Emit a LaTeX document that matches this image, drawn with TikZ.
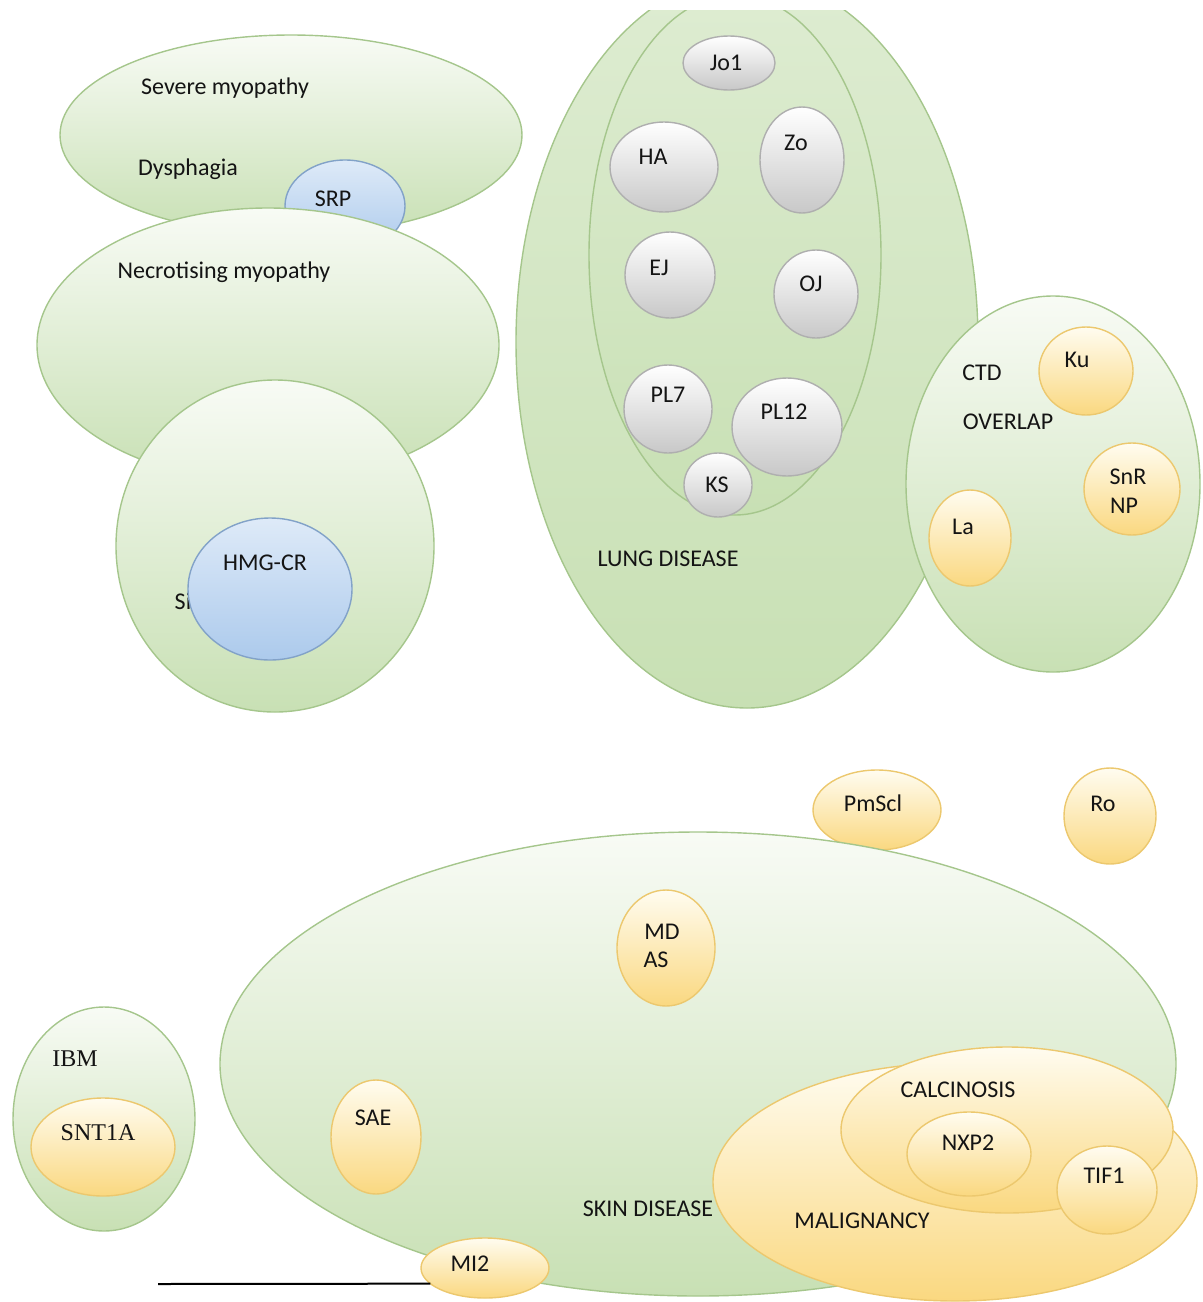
\documentclass[tikz,border=0pt]{standalone}
\usepackage{fontspec}
\setmainfont{Carlito}
\newfontfamily\myserif{Liberation Serif}
\usetikzlibrary{shapes.geometric}
\definecolor{greenB}{RGB}{165,198,140}
\definecolor{greenD}{RGB}{200,224,180}
\definecolor{greenL}{RGB}{248,251,245}
\definecolor{grayB}{RGB}{175,175,175}
\definecolor{grayD}{RGB}{200,200,200}
\definecolor{yelB}{RGB}{236,200,110}
\definecolor{yelD}{RGB}{250,216,128}
\definecolor{yelL}{RGB}{255,252,240}
\definecolor{bluB}{RGB}{130,162,200}
\definecolor{bluD}{RGB}{172,202,236}
\definecolor{bluL}{RGB}{222,234,248}
\newcommand\myblob[5]{\node[#1, minimum width=#4pt, minimum height=#5pt] (#2) at #3 {};}
\begin{document}
\begin{tikzpicture}[x=0.5pt,y=-0.5pt,
  blob/.style={ellipse, inner sep=0pt, outer sep=0pt, line width=0.7pt},
  greenblob/.style={blob, draw=greenB, top color=greenL, bottom color=greenD},
  lungblob/.style={blob, draw=greenB, top color=greenD!55!greenL, bottom color=greenD},
  grayblob/.style={blob, draw=grayB, top color=white, bottom color=grayD},
  yelblob/.style={blob, draw=yelB, top color=yelL, bottom color=yelD},
  blublob/.style={blob, draw=bluB, top color=bluL, bottom color=bluD},
  lbl/.style={font=\fontsize{12}{14.5}\selectfont, text=black!92, inner sep=0pt, align=center},
  slbl/.style={font=\myserif\fontsize{12}{14}\selectfont, text=black!92, inner sep=0pt}]
\useasboundingbox (0,0) rectangle (1203,1302);
\clip (0,10) rectangle (1203,1302);

% ---- top left: myopathy ----
\myblob{greenblob}{severe}{(291,135)}{231}{100}
\node[lbl] (tsevere) at (225,88) {Severe myopathy};
\node[lbl] (tdys) at (188,169) {Dysphagia};
\myblob{blublob}{srp}{(345,206)}{60}{46}
\node[lbl] (tsrp) at (333,199) {SRP};
\myblob{greenblob}{necro}{(268,345)}{231}{137}
\node[lbl] (tnecro) at (224,272) {Necrotising myopathy};
\myblob{greenblob}{statin}{(275,546)}{159}{166}
\node[lbl] (tsi) at (183,601) {Si};
\myblob{blublob}{hmg}{(270,589)}{82}{71}
\node[lbl] (thmg) at (265,563) {HMG-CR};

% ---- lung disease ----
\myblob{lungblob}{lung}{(747,342)}{231}{366}
\myblob{lungblob}{lungin}{(735,255)}{146}{260}
\node[lbl] (tlung) at (668,559) {LUNG DISEASE};
\myblob{grayblob}{jo1}{(729,63)}{46}{27}
\node[lbl] (tjo1) at (726,63) {Jo1};
\myblob{grayblob}{ha}{(664,167)}{54}{45}
\node[lbl] (tha) at (653,157) {HA};
\myblob{grayblob}{zo}{(802,160)}{42}{53}
\node[lbl] (tzo) at (796,143) {Zo};
\myblob{grayblob}{ej}{(670,275)}{45}{43}
\node[lbl] (tej) at (659,268) {EJ};
\myblob{grayblob}{oj}{(816,294)}{42}{44}
\node[lbl] (toj) at (811,284) {OJ};
\myblob{grayblob}{pl7}{(668,409)}{44}{44}
\node[lbl] (tpl7) at (668,395) {PL7};
\myblob{grayblob}{pl12}{(787,427)}{55}{49}
\node[lbl] (tpl12) at (784,412) {PL12};
\myblob{grayblob}{ks}{(718,485)}{34}{32}
\node[lbl] (tks) at (717,485) {KS};

% ---- CTD overlap ----
\myblob{greenblob}{ctd}{(1053,484)}{147}{188}
\node[lbl] (tctd) at (982,373) {CTD};
\node[lbl] (tover) at (1008,422) {OVERLAP};
\myblob{yelblob}{ku}{(1086,371)}{47}{44}
\node[lbl] (tku) at (1077,360) {Ku};
\myblob{yelblob}{snr}{(1132,489)}{48}{46}
\node[lbl] (tsnr) at (1128,477) {SnR};
\node[lbl] (tnp) at (1124,506) {NP};
\myblob{yelblob}{la}{(970,538)}{41}{48}
\node[lbl] (tla) at (963,527) {La};

% ---- bottom ----
\myblob{yelblob}{pmscl}{(877,810)}{64}{40}
\node[lbl] (tpmscl) at (873,803) {PmScl};
\myblob{yelblob}{ro}{(1110,816)}{46}{48}
\node[lbl] (tro) at (1103,804) {Ro};

\myblob{greenblob}{skin}{(698,1064)}{478}{232}
\node[lbl] (tskin) at (648,1209) {SKIN DISEASE};
\myblob{yelblob}{mdas}{(666,948)}{49}{58}
\node[lbl] (tmd) at (662,932) {MD};
\node[lbl] (tas) at (656,960) {AS};
\myblob{yelblob}{sae}{(376,1137)}{45}{57}
\node[lbl] (tsae) at (373,1118) {SAE};

\myblob{yelblob}{malig}{(955,1182)}{242}{119}
\node[lbl] (tmalig) at (862,1221) {MALIGNANCY};
\myblob{yelblob}{calc}{(1007,1130)}{166}{83}
\node[lbl] (tcalc) at (958,1090) {CALCINOSIS};
\myblob{yelblob}{nxp2}{(969,1154)}{62}{42}
\node[lbl] (tnxp2) at (968,1143) {NXP2};
\myblob{yelblob}{tif1}{(1107,1190)}{50}{44}
\node[lbl] (ttif1) at (1104,1176) {TIF1};

\coordinate (lineL) at (158,1284);
\myblob{yelblob}{mi2}{(485,1268)}{64}{30}
\draw[line width=1pt] (lineL) -- (mi2.196);
\node[lbl] (tmi2) at (470,1264) {MI2};

% ---- IBM ----
\myblob{greenblob}{ibm}{(104,1119)}{91}{112}
\node[slbl] (tibm) at (75,1059) {IBM};
\myblob{yelblob}{snt}{(103,1147)}{72}{49}
\node[slbl] (tsnt) at (98,1133) {SNT1A};
\end{tikzpicture}
\end{document}
